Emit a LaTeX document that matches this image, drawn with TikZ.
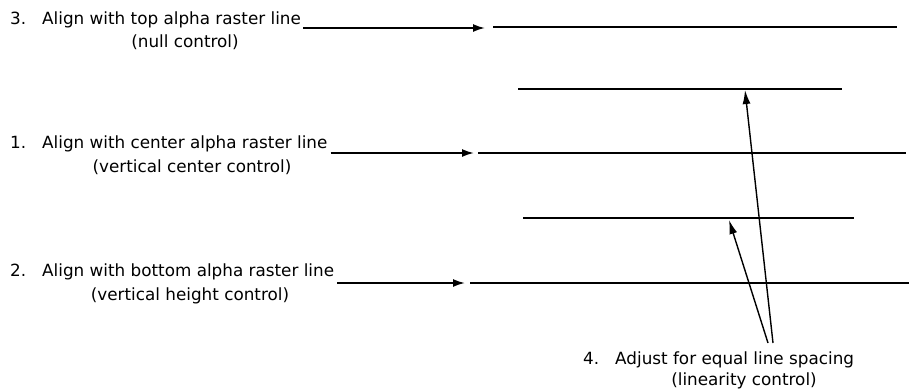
\documentclass[tikz,border=0pt]{standalone}
\usepackage{fontspec}
\setmainfont{DejaVu Sans}
\usetikzlibrary{arrows.meta}
\begin{document}
\begin{tikzpicture}[x=1pt,y=-1pt,
  lbl/.style={inner sep=0pt,anchor=base west,font=\fontsize{16.8}{19}\selectfont},
  sub/.style={inner sep=0pt,anchor=base,font=\fontsize{16.8}{19}\selectfont},
  raster/.style={line width=1.8pt},
  feed/.style={line width=1.8pt,-{Latex[length=12pt,width=8pt]}},
  adjust/.style={line width=1.4pt,-{Latex[length=14pt,width=8pt]}}]
\useasboundingbox (0,0) rectangle (909,391);
% step labels
\node[lbl] (n3) at (10,24) {3.};
\node[lbl] (t3) at (42,24) {Align with top alpha raster line};
\node[sub] (s3) at (185,47) {(null control)};
\node[lbl] (n1) at (10,148) {1.};
\node[lbl] (t1) at (42,148) {Align with center alpha raster line};
\node[sub] (s1) at (192,172) {(vertical center control)};
\node[lbl] (n2) at (10,276) {2.};
\node[lbl] (t2) at (42,276) {Align with bottom alpha raster line};
\node[sub] (s2) at (190,300) {(vertical height control)};
\node[lbl] (n4) at (583,364) {4.};
\node[lbl] (t4) at (615,364) {Adjust for equal line spacing};
\node[sub] (s4) at (744,385) {(linearity control)};
% raster lines
\coordinate (r3a) at (493,27);  \coordinate (r3b) at (897,27);
\coordinate (ra) at (518,89);   \coordinate (rb) at (842,89);
\coordinate (r1a) at (478,153); \coordinate (r1b) at (906,153);
\coordinate (rc) at (523,218);  \coordinate (rd) at (854,218);
\coordinate (r2a) at (470,283); \coordinate (r2b) at (909,283);
\draw[raster] (r3a) -- (r3b);
\draw[raster] (ra) -- (rb);
\draw[raster] (r1a) -- (r1b);
\draw[raster] (rc) -- (rd);
\draw[raster] (r2a) -- (r2b);
% leader arrows from the step labels
\draw[feed] (t3.base east |- 0,28) ++(2,0) coordinate (f3) -- (485,28) coordinate (e3);
\draw[feed] (t1.base east |- 0,153) ++(3,0) coordinate (f1) -- (474,153) coordinate (e1);
\draw[feed] (t2.base east |- 0,283) ++(3,0) coordinate (f2) -- (465,283) coordinate (e2);
% linearity adjustment arrows
\coordinate (ua) at (773,343);
\coordinate (ub) at (768,343);
\draw[adjust] (ua) -- (745,90);
\draw[adjust] (ub) -- (729,220);
\end{tikzpicture}
\end{document}
